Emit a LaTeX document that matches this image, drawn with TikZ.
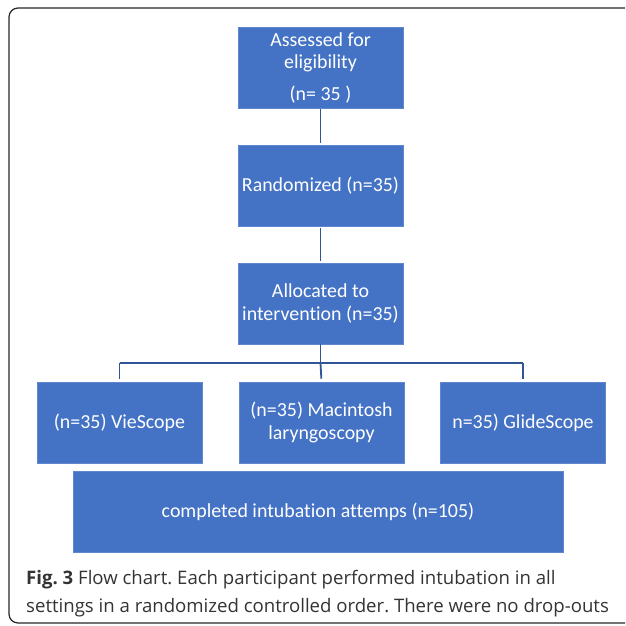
\documentclass[tikz,border=0pt]{standalone}
\usepackage{fontspec}
\setmainfont[Ligatures={NoCommon}]{Carlito}
\newfontfamily\capfont{Open Sans}
\frenchspacing
\definecolor{boxblue}{HTML}{4472C4}
\definecolor{lineblue}{HTML}{2F5597}
\definecolor{captext}{HTML}{333333}
\begin{document}
\begin{tikzpicture}[x=1pt,y=-1pt,
  flowbox/.style={fill=boxblue, draw=boxblue!85!white, line width=0.6pt, text=white,
    minimum width=165pt, minimum height=81pt, inner sep=2pt, align=center,
    font=\fontsize{19.9}{22.5}\selectfont},
  link/.style={draw=lineblue, line width=1.8pt}]
\useasboundingbox (0,0) rectangle (625,626);
\begin{scope}
\clip (0,0) rectangle (625,626);
\draw[rounded corners=9pt, line width=1.2pt, draw=black!85] (9,8) rectangle (660,623);
\end{scope}
\node[flowbox] (assess) at (320.5,67.5) {Assessed for\\eligibility\\[9pt](n= 35 )};
\node[flowbox] (rand) at (320.5,185.5) {Randomized (n=35)};
\node[flowbox] (alloc) at (320.5,303.5) {Allocated to\\intervention (n=35)};
\node[flowbox] (vie) at (119.5,422.5) {(n=35) VieScope};
\node[flowbox] (mac) at (321.5,422.5) {(n=35) Macintosh\\laryngoscopy};
\node[flowbox] (glide) at (523,422.5) {n=35) GlideScope};
\node[flowbox, minimum width=490pt] (done) at (318,511.5) {completed intubation attemps (n=105)};
\coordinate (br) at (321,363);
\draw[link, shorten <=1pt, shorten >=2pt] (assess.south) -- (rand.north);
\draw[link, shorten <=2pt, shorten >=2pt] (rand.south) -- (alloc.north);
\draw[link] (alloc.south) -- (alloc.south |- br);
\draw[link, shorten >=3pt] (vie.north |- br) -- (vie.north);
\draw[link, shorten >=3pt] (alloc.south |- br) -- (mac.north);
\draw[link, shorten >=3pt] (glide.north |- br) -- (glide.north);
\draw[link] (vie.north |- br) -- (glide.north |- br);
\node[anchor=base west, inner sep=0pt, text=captext, font=\capfont\fontsize{18.6}{20}\selectfont] (cap1) at (26,584) {\textbf{Fig. 3} Flow chart. Each participant performed intubation in all};
\node[anchor=base west, inner sep=0pt, text=captext, font=\capfont\fontsize{18.6}{20}\selectfont] (cap2) at (26,612) {settings in a randomized controlled order. There were no drop-outs};
\end{tikzpicture}
\end{document}
